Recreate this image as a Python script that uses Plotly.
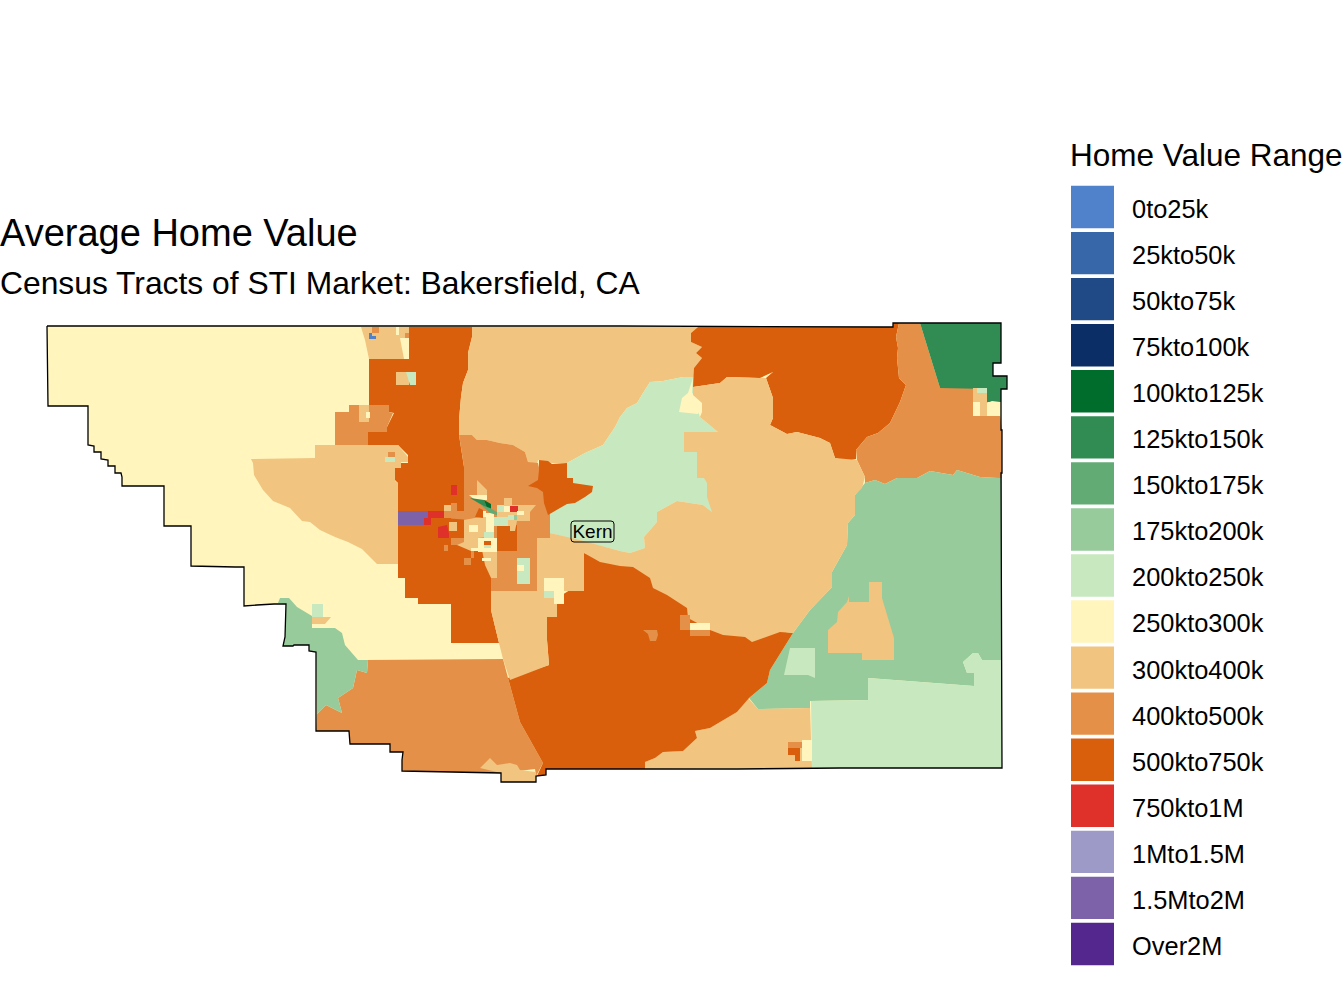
import plotly.graph_objects as go

# value bins, same order as the legend
bin_labels = ["0to25k", "25kto50k", "50kto75k", "75kto100k", "100kto125k", "125kto150k",
              "150kto175k", "175kto200k", "200kto250k", "250kto300k", "300kto400k",
              "400kto500k", "500kto750k", "750kto1M", "1Mto1.5M", "1.5Mto2M", "Over2M"]
bin_colors = ["#5082CC", "#3767A8", "#1F4A85", "#0B2E66", "#006D2C", "#318C54",
              "#63AB75", "#97CB9B", "#C8E9C0", "#FFF5BD", "#F1C480",
              "#E59048", "#D95F0C", "#DF302A", "#9E9AC8", "#7D62AA", "#54278F"]


def box(x0, y0, x1, y1):
    return [(x0, y0), (x1, y0), (x1, y1), (x0, y1)]


# map units
county_ring = [(47, 326), (620, 326), (882, 327), (893, 327), (893, 323), (1001, 323), (1001, 363),
               (993, 363), (993, 376), (1007, 376), (1007, 389), (1001, 389), (1001, 430), (1002, 430),
               (1002, 473), (1001, 473), (1002, 768), (840, 768), (737, 769), (546, 769), (546, 775),
               (536, 776), (536, 782), (501, 782), (501, 773), (402, 771), (402, 760), (403, 752),
               (390, 752), (390, 744), (350, 744), (349, 731), (316, 731), (316, 652), (309, 651),
               (309, 645), (294, 645), (293, 646), (283, 646), (285, 637), (286, 604), (274, 604),
               (257, 605), (244, 606), (244, 567), (235, 567), (191, 566), (191, 526), (164, 526),
               (164, 486), (122, 486), (122, 477), (121, 473), (115, 473), (115, 466), (108, 466),
               (108, 460), (101, 459), (101, 452), (94, 452), (94, 446), (88, 445), (88, 406),
               (48, 406), (47, 326)]

west_tracts = [
    ("300kto400k", [(361, 327), (409, 327), (409, 359), (369, 359), (365, 340)]),
    ("500kto750k", [(409, 327), (472, 327), (472, 337), (468, 353), (468, 370), (463, 383), (461, 397),
                    (459, 420), (459, 435), (464, 467), (497, 480), (497, 578), (491, 578), (491, 610),
                    (499, 643), (451, 643), (451, 604), (418, 604), (418, 598), (405, 598), (405, 578),
                    (398, 578), (398, 483), (395, 480), (395, 468), (401, 468), (401, 463), (408, 463),
                    (408, 455), (398, 445), (368, 445), (368, 432), (387, 432), (387, 427), (394, 413),
                    (389, 412), (389, 405), (369, 405), (369, 359), (409, 359)]),
    ("300kto400k", [(251, 459), (315, 458), (315, 445), (398, 445), (408, 457), (408, 462), (401, 462),
                    (401, 468), (395, 468), (395, 481), (398, 483), (398, 564), (377, 564), (370, 557),
                    (362, 549), (348, 542), (335, 537), (320, 530), (310, 522), (302, 521), (290, 508),
                    (273, 501), (263, 490), (254, 475), (253, 463)]),
    ("400kto500k", [(335, 412), (349, 412), (349, 405), (389, 405), (389, 412), (393, 413), (387, 427),
                    (387, 432), (368, 432), (368, 445), (335, 445)]),
    ("300kto400k", box(359, 405, 369, 422)),
    ("250kto300k", box(366, 412, 370, 418)),
    ("300kto400k", box(396, 372, 409, 385)),
    ("200kto250k", [(406, 372), (416, 372), (416, 385), (410, 385)]),
    ("400kto500k", box(388, 452, 395, 457)),
    ("200kto250k", box(385, 457, 395, 462)),
    ("250kto300k", [(400, 338), (409, 338), (409, 359), (404, 359)]),
    ("400kto500k", box(372, 327, 379, 333)),
    ("0to25k", [(369, 333), (372, 333), (372, 336), (376, 336), (376, 339), (369, 339)]),
    ("250kto300k", box(396, 327, 399, 335)),
    ("400kto500k", box(405, 333, 409, 338)),
]

east_tracts = [
    ("300kto400k", [(472, 327), (698, 327), (691, 333), (691, 342), (702, 347), (696, 353), (702, 358),
                    (694, 368), (694, 377), (683, 377), (663, 381), (650, 382), (643, 393), (637, 403),
                    (627, 408), (620, 417), (615, 427), (603, 445), (585, 453), (567, 463), (552, 463),
                    (538, 460), (537, 465), (528, 462), (525, 452), (513, 445), (500, 443), (487, 440),
                    (477, 440), (472, 435), (459, 435), (459, 420), (461, 397), (463, 383), (468, 370),
                    (468, 353), (472, 337)]),
    ("200kto250k", [(694, 377), (683, 377), (663, 381), (650, 382), (643, 393), (637, 403), (627, 408),
                    (620, 417), (615, 427), (603, 445), (585, 453), (567, 463), (540, 480), (545, 510),
                    (550, 520), (550, 533), (620, 551), (630, 553), (645, 548), (644, 537),
                    (657, 522), (657, 512), (677, 501), (703, 505), (712, 512), (730, 500), (730, 432),
                    (718, 432), (700, 417), (694, 400)]),
    ("250kto300k", [(693, 378), (688, 393), (682, 398), (679, 412), (698, 414), (702, 405), (700, 398),
                    (692, 393)]),
    ("500kto750k", [(698, 327), (893, 327), (893, 323), (899, 323), (896, 337), (898, 348), (897, 358),
                    (899, 378), (906, 385), (900, 402), (890, 423), (878, 433), (867, 437), (856, 450),
                    (856, 459), (847, 461), (835, 458), (830, 443), (820, 438), (797, 432), (787, 434),
                    (770, 425), (773, 418), (773, 398), (766, 378), (773, 372), (760, 378), (727, 377),
                    (720, 383), (693, 387), (694, 368), (702, 358), (696, 353), (702, 347), (691, 342),
                    (691, 333)]),
    ("400kto500k", [(899, 323), (920, 323), (940, 388), (973, 388), (1000, 415), (1002, 430), (1002, 478),
                    (997, 478), (980, 477), (957, 470), (953, 475), (930, 471), (917, 478), (897, 478),
                    (885, 484), (875, 480), (865, 483), (865, 477), (857, 460), (856, 450), (867, 437),
                    (878, 433), (890, 423), (900, 402), (906, 385), (899, 378), (897, 358), (898, 348),
                    (896, 337)]),
    ("125kto150k", [(920, 323), (1001, 323), (1001, 363), (993, 363), (993, 376), (1007, 376), (1007, 389),
                    (1001, 389), (1001, 402), (987, 402), (987, 389), (940, 388)]),
    ("300kto400k", box(973, 388, 987, 416)),
    ("200kto250k", box(977, 388, 987, 393)),
    ("250kto300k", box(973, 402, 980, 416)),
    ("250kto300k", [(987, 403), (992, 401), (1000, 402), (1000, 416), (987, 416)]),
    ("175kto200k", [(865, 483), (875, 480), (885, 484), (897, 478), (917, 478), (930, 471), (953, 475),
                    (957, 470), (980, 477), (997, 478), (1002, 478), (1002, 660), (982, 660), (978, 653),
                    (973, 653), (963, 662), (967, 673), (974, 673), (974, 686), (868, 678), (868, 700),
                    (810, 701), (810, 708), (758, 709), (749, 698), (767, 683), (770, 670), (793, 633),
                    (810, 610), (832, 587), (832, 572), (847, 545), (848, 523), (855, 515), (855, 495)]),
    ("300kto400k", [(869, 582), (882, 582), (882, 598), (890, 625), (894, 638), (894, 660), (862, 660),
                    (862, 653), (828, 653), (828, 630), (837, 622), (838, 612), (847, 602), (849, 596),
                    (849, 602), (869, 602)]),
    ("200kto250k", [(790, 648), (815, 648), (815, 678), (808, 675), (784, 675)]),
    ("200kto250k", [(1002, 660), (1002, 768), (812, 768), (811, 701), (868, 700), (868, 678), (974, 686),
                    (974, 673), (967, 673), (963, 662), (973, 653), (978, 653), (982, 660)]),
]

south_tracts = [
    ("300kto400k", [(645, 769), (645, 762), (655, 758), (663, 752), (683, 751), (697, 738), (695, 731),
                    (710, 728), (737, 712), (748, 698), (758, 709), (810, 708), (812, 768)]),
    ("400kto500k", box(788, 742, 802, 748)),
    ("500kto750k", [(788, 748), (800, 748), (800, 761), (795, 761), (795, 755), (788, 755)]),
    ("250kto300k", box(802, 740, 812, 761)),
    ("400kto500k", [(368, 660), (503, 659), (508, 678), (520, 722), (543, 763), (536, 776), (535, 769),
                    (501, 773), (402, 771), (402, 760), (403, 752), (390, 752), (390, 744), (350, 744),
                    (349, 731), (316, 731), (317, 714), (326, 705), (342, 713), (338, 698), (353, 688),
                    (357, 670), (367, 673)]),
    ("300kto400k", [(480, 768), (490, 758), (497, 765), (510, 763), (517, 765), (520, 770), (536, 772),
                    (536, 782), (501, 782), (501, 773)]),
    ("175kto200k", [(278, 603), (280, 598), (289, 598), (297, 607), (312, 616), (312, 628), (335, 628),
                    (342, 633), (345, 645), (358, 660), (368, 660), (367, 673), (357, 670), (353, 688),
                    (338, 698), (342, 713), (326, 705), (317, 714), (316, 652), (309, 651), (309, 645),
                    (294, 645), (293, 646), (283, 646), (285, 637), (286, 604)]),
    ("200kto250k", box(312, 604, 323, 617)),
    ("300kto400k", [(312, 617), (331, 617), (325, 624), (312, 624)]),
    ("500kto750k", [(584, 553), (650, 570), (700, 620), (793, 633), (770, 670), (767, 683), (749, 698),
                    (737, 712), (710, 728), (695, 731), (697, 738), (683, 751), (663, 752), (655, 758),
                    (645, 762), (645, 769), (546, 769), (546, 775), (537, 776), (543, 763), (520, 722),
                    (508, 678), (549, 665), (547, 640), (547, 617), (557, 617), (557, 598),
                    (570, 590)]),
    ("300kto400k", [(620, 551), (630, 553), (645, 548), (644, 537), (657, 522), (657, 512), (677, 501),
                    (703, 505), (712, 512), (707, 497), (707, 483), (704, 478), (697, 478), (697, 452),
                    (684, 452), (684, 432), (718, 432), (700, 417), (702, 412), (702, 403), (693, 395),
                    (693, 387), (720, 383), (727, 377), (758, 378), (766, 378), (773, 398), (773, 418),
                    (770, 425), (787, 434), (797, 432), (820, 438), (830, 443), (835, 458), (857, 460),
                    (865, 477), (862, 488), (855, 495), (855, 515), (848, 523), (847, 545), (832, 572),
                    (832, 587), (810, 610), (793, 633), (780, 632), (752, 642), (745, 637), (723, 635),
                    (710, 630), (688, 618), (687, 608), (667, 595), (653, 588), (650, 578), (633, 567),
                    (620, 566), (600, 562), (584, 553), (584, 591), (564, 591), (557, 598), (557, 617),
                    (547, 617), (547, 640), (549, 665), (510, 680), (503, 659), (499, 643), (491, 610),
                    (491, 591), (537, 591), (537, 538), (550, 538), (550, 533), (580, 540)]),
    ("400kto500k", box(680, 615, 690, 630)),
    ("250kto300k", box(690, 623, 710, 630)),
    ("400kto500k", box(690, 630, 710, 636)),
    ("400kto500k", [(643, 630), (657, 630), (658, 635), (656, 641), (650, 641), (648, 634)]),
]

metro_tracts = [
    ("400kto500k", [(459, 435), (472, 435), (477, 440), (487, 440), (500, 443), (513, 445), (525, 452),
                    (528, 462), (538, 463), (544, 490), (550, 492), (550, 538), (537, 538), (537, 591),
                    (491, 591), (491, 578), (497, 578), (497, 551), (482, 551), (464, 545), (464, 467)]),
    ("500kto750k", [(539, 460), (548, 461), (552, 464), (567, 463), (567, 478), (573, 478), (573, 483),
                    (593, 486), (592, 492), (585, 497), (575, 503), (567, 504), (560, 508), (548, 515),
                    (544, 503), (543, 492), (537, 488), (528, 486), (538, 480), (539, 470)]),
    ("300kto400k", box(444, 505, 451, 511)),
    ("400kto500k", box(451, 503, 464, 511)),
    ("500kto750k", box(457, 498, 464, 511)),
    ("750kto1M", box(451, 485, 457, 495)),
    ("500kto750k", box(457, 485, 464, 492)),
    ("400kto500k", [(444, 511), (480, 511), (470, 520), (451, 518), (444, 518)]),
    ("1.5Mto2M", box(398, 511, 428, 525)),
    ("750kto1M", box(428, 511, 444, 518)),
    ("750kto1M", box(424, 518, 431, 525)),
    ("500kto750k", box(431, 518, 451, 525)),
    ("750kto1M", [(438, 527), (447, 525), (450, 538), (438, 538)]),
    ("300kto400k", box(449, 522, 457, 531)),
    ("500kto750k", box(457, 522, 464, 533)),
    ("500kto750k", box(449, 531, 456, 538)),
    ("400kto500k", box(451, 538, 464, 545)),
    ("400kto500k", box(444, 545, 448, 551)),
    ("400kto500k", box(464, 558, 471, 565)),
    ("400kto500k", box(471, 551, 474, 558)),
    ("300kto400k", [(477, 480), (487, 490), (487, 495), (477, 495), (477, 488)]),
    ("300kto400k", [(464, 520), (480, 517), (486, 517), (487, 537), (478, 538), (478, 550), (471, 551),
                    (457, 545), (464, 542)]),
    ("300kto400k", [(482, 550), (497, 550), (497, 578), (491, 578), (485, 565)]),
    ("500kto750k", [(497, 525), (510, 525), (517, 525), (517, 551), (497, 551)]),
    ("300kto400k", box(504, 498, 512, 505)),
    ("300kto400k", [(497, 505), (536, 505), (530, 512), (530, 521), (517, 521), (515, 531), (510, 531),
                    (510, 526), (497, 526)]),
    ("750kto1M", box(510, 506, 518, 512)),
    ("250kto300k", box(486, 513, 494, 540)),
    ("250kto300k", box(478, 538, 497, 552)),
    ("250kto300k", box(469, 525, 478, 532)),
    ("250kto300k", box(471, 548, 478, 551)),
    ("250kto300k", box(482, 558, 491, 561)),
    ("250kto300k", box(503, 506, 510, 512)),
    ("250kto300k", box(517, 511, 524, 515)),
    ("250kto300k", box(480, 511, 486, 517)),
    ("200kto250k", box(494, 517, 508, 526)),
    ("200kto250k", box(484, 532, 494, 538)),
    ("200kto250k", box(484, 545, 491, 548)),
    ("200kto250k", box(497, 505, 504, 512)),
    ("200kto250k", box(508, 515, 514, 520)),
    ("175kto200k", box(514, 515, 517, 520)),
    ("500kto750k", box(484, 541, 491, 545)),
    ("500kto750k", [(479, 508), (483, 510), (483, 518), (475, 517)]),
    ("200kto250k", box(517, 558, 530, 584)),
    ("250kto300k", box(517, 565, 524, 571)),
    ("250kto300k", box(544, 578, 564, 591)),
    ("200kto250k", box(544, 591, 554, 598)),
    ("250kto300k", box(554, 591, 564, 604)),
    ("250kto300k", [(469, 495), (487, 495), (487, 500), (475, 500)]),
    ("125kto150k", [(470, 498), (484, 500), (487, 508), (480, 504)]),
    ("100kto125k", [(484, 500), (491, 504), (491, 509), (487, 508)]),
    ("150kto175k", [(481, 505), (490, 508), (497, 512), (497, 515), (490, 513)]),
]

county_names = ["Kern"]
county_name_x = [592.5]
county_name_y = [533]

color_of = dict(zip(bin_labels, bin_colors))
fig = go.Figure()

#county base, most of the west is 250kto300k
fig.add_trace(go.Scatter(x=[p[0] for p in county_ring], y=[p[1] for p in county_ring],
                         mode="lines", fill="toself", fillcolor=color_of["250kto300k"],
                         line=dict(width=0), showlegend=False, hoverinfo="skip"))

for tract_bin, ring in west_tracts + east_tracts + south_tracts + metro_tracts:
    fig.add_trace(go.Scatter(x=[p[0] for p in ring] + [ring[0][0]],
                             y=[p[1] for p in ring] + [ring[0][1]],
                             mode="lines", fill="toself", fillcolor=color_of[tract_bin],
                             line=dict(width=0), showlegend=False, hoverinfo="skip"))

#county border on top of the tracts
fig.add_trace(go.Scatter(x=[p[0] for p in county_ring], y=[p[1] for p in county_ring],
                         mode="lines", line=dict(color="black", width=1.3),
                         showlegend=False, hoverinfo="skip"))

fig.add_trace(go.Scatter(x=county_name_x, y=county_name_y, text=county_names, mode="text",
                         textfont=dict(family="Liberation Sans", size=19, color="black"),
                         showlegend=False, hoverinfo="skip"))

#legend keys are a bar chart on their own axes
fig.add_trace(go.Bar(x=[1] * len(bin_labels), y=bin_labels, orientation="h",
                     marker=dict(color=bin_colors, line=dict(width=0)),
                     xaxis="x2", yaxis="y2", showlegend=False, hoverinfo="skip"))

fig.update_layout(
    width=1344, height=1008,
    margin=dict(l=0, r=0, t=0, b=0),
    plot_bgcolor="white", paper_bgcolor="white",
    hovermode=False, bargap=0.08,
    font=dict(family="Liberation Sans", color="black"),
    xaxis=dict(range=[0, 1344], visible=False, domain=[0, 1], fixedrange=True),
    yaxis=dict(range=[1008, 0], visible=False, domain=[0, 1], fixedrange=True),
    xaxis2=dict(range=[0, 1], visible=False, domain=[1071 / 1344, 1114 / 1344], anchor="y2"),
    yaxis2=dict(domain=[1 - 967 / 1008, 1 - 184 / 1008], anchor="x2", side="right",
                categoryorder="array", categoryarray=bin_labels, autorange="reversed",
                showgrid=False, zeroline=False, showline=False,
                ticks="outside", ticklen=12, tickcolor="rgba(0,0,0,0)", ticklabelshift=-2,
                tickfont=dict(size=25.4, family="Liberation Sans")),
    annotations=[
        dict(text="Average Home Value", x=-2 / 1344, y=1 - 233 / 1008, xref="paper", yref="paper",
             xanchor="left", yanchor="middle", showarrow=False, font=dict(size=38)),
        dict(text="Census Tracts of STI Market: Bakersfield, CA", x=-2 / 1344, y=1 - 283 / 1008,
             xref="paper", yref="paper", xanchor="left", yanchor="middle", showarrow=False,
             font=dict(size=31.8)),
        dict(text="Home Value Range", x=1068 / 1344, y=1 - 155 / 1008, xref="paper", yref="paper",
             xanchor="left", yanchor="middle", showarrow=False, font=dict(size=31.5)),
    ],
    shapes=[
        #rounded label box round the county name
        dict(type="path", xref="x", yref="y", line=dict(color="black", width=1),
             path="M 574 521 L 611 521 Q 614 521 614 524 L 614 539 Q 614 542 611 542 "
                  "L 574 542 Q 571 542 571 539 L 571 524 Q 571 521 574 521 Z"),
    ],
)

fig.write_html("out.html", config={"displayModeBar": False},
               post_script="document.body.style.margin='0';")
